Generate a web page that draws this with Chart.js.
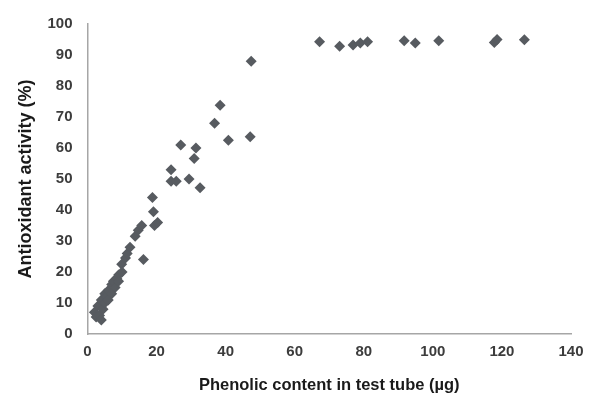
<!DOCTYPE html>
<html>
<head>
<meta charset="utf-8">
<script src="https://cdn.jsdelivr.net/npm/chart.js@4"></script>
<style>
html,body{margin:0;padding:0;background:#fff;}
#wrap{width:598px;height:398px;}
</style>
</head>
<body>
<div id="wrap"><canvas id="c" width="598" height="398"></canvas></div>
<script>
const xTitle = "Phenolic content in test tube (µg)";
const yTitle = "Antioxidant activity (%)";
const xTicks = [0, 20, 40, 60, 80, 100, 120, 140];
const yTicks = [0, 10, 20, 30, 40, 50, 60, 70, 80, 90, 100];

const phenolic = [
  2, 2.5, 3, 3.5, 4, 4, 4.5, 5, 5, 5.5, 6, 6, 7, 7, 7.5, 8, 8.5, 9, 9, 9.9, 10, 11, 11.5, 12.3,
  13.8, 14.7, 15.7, 16.2, 18.8, 19.1, 19.4, 20.3,
  24.2, 24.2, 25.7, 27, 29.4, 30.9, 31.4, 32.6, 36.8, 38.4, 40.8, 47.1, 47.4,
  67.2, 73, 76.9, 79, 81.1, 91.7, 94.9, 101.7, 117.8, 118.6, 126.5
];
const activity = [
  7, 5.5, 9, 6, 4.5, 11, 8, 13, 10, 12, 14, 11, 16, 13, 17, 15, 18, 19, 17, 22.5, 20, 24.5, 26, 28,
  31.5, 33.5, 35, 24, 44, 39.4, 35, 36,
  53, 49.3, 49.3, 61, 50, 56.6, 60, 47.2, 68, 73.8, 62.5, 63.6, 88,
  94.3, 92.8, 93.2, 93.9, 94.3, 94.6, 93.9, 94.6, 94, 95, 94.9
];

const points = phenolic.map((x, i) => ({x: x, y: activity[i]}));

new Chart(document.getElementById('c'), {
  type: 'scatter',
  data: {
    datasets: [{
      data: points,
      pointStyle: 'rectRot',
      pointRadius: 5.5,
      pointHoverRadius: 5.5,
      backgroundColor: '#575b60',
      borderColor: '#575b60',
      borderWidth: 0
    }]
  },
  options: {
    responsive: false,
    animation: false,
    events: [],
    layout: {padding: {left: 0, top: 18, right: 27, bottom: 0}},
    plugins: {legend: {display: false}, tooltip: {enabled: false}},
    scales: {
      x: {
        type: 'linear',
        min: 0, max: 140,
        afterBuildTicks: s => { s.ticks = xTicks.map(v => ({value: v})); },
        afterFit: s => { s.height = 64; },
        grid: {display: false, drawTicks: false},
        border: {display: true, color: '#a6a6a6', width: 1.5},
        ticks: {padding: 9, color: '#3c3c3c', font: {family: 'Liberation Sans', size: 15, weight: 'bold'}, maxRotation: 0},
        title: {display: true, text: xTitle, color: '#1a1a1a', padding: {top: 0, bottom: 3}, font: {family: 'Liberation Sans', size: 16.5, weight: 'bold'}}
      },
      y: {
        type: 'linear',
        min: 0, max: 100,
        afterBuildTicks: s => { s.ticks = yTicks.map(v => ({value: v})); },
        afterFit: s => { s.width = 87.5; },
        grid: {display: false, drawTicks: false},
        border: {display: true, color: '#a6a6a6', width: 1.5},
        ticks: {padding: 15, color: '#3c3c3c', font: {family: 'Liberation Sans', size: 15, weight: 'bold'}},
        title: {display: true, text: yTitle, color: '#1a1a1a', padding: {top: 15, bottom: 0}, font: {family: 'Liberation Sans', size: 18, weight: 'bold'}}
      }
    }
  }
});
</script>
</body>
</html>
